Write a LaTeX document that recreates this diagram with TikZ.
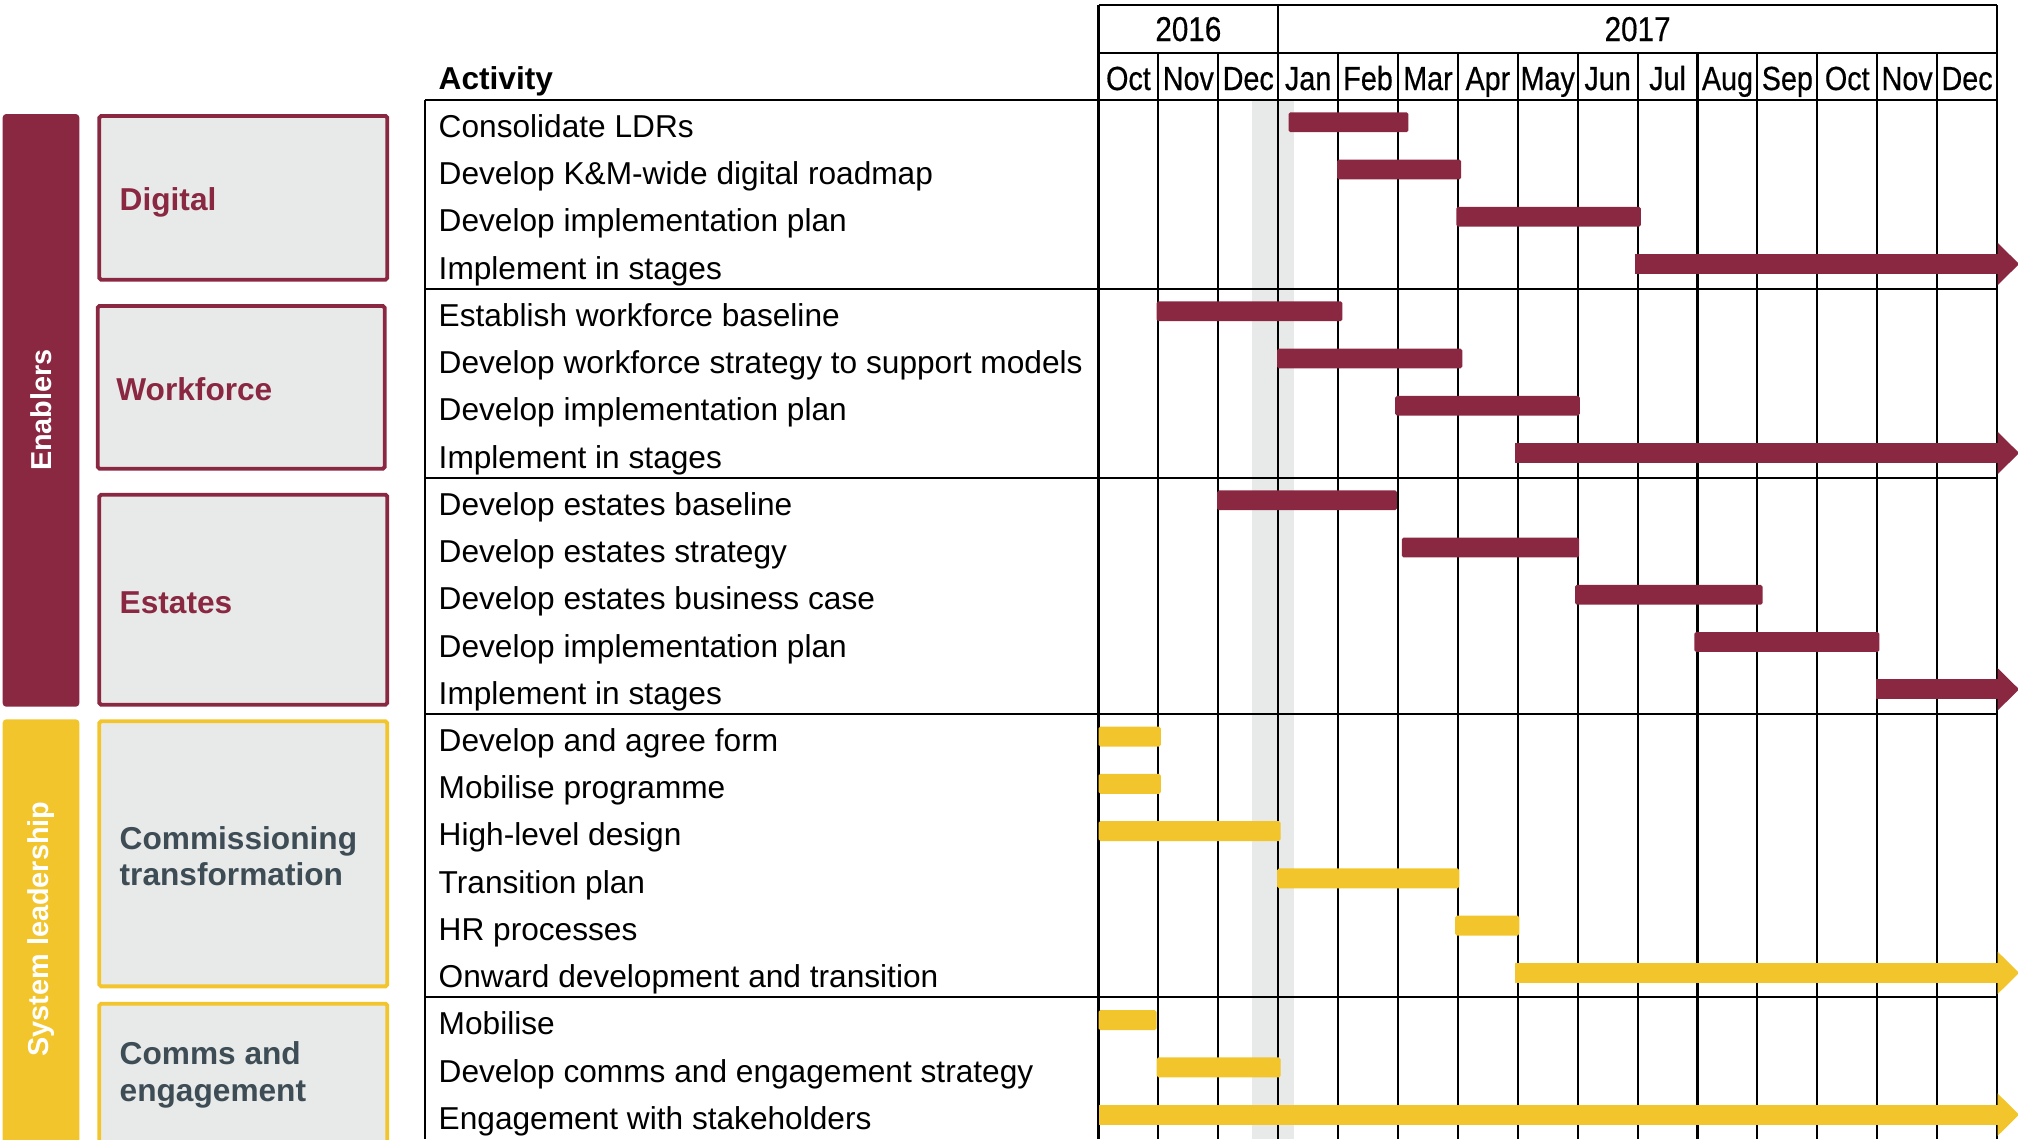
\documentclass[tikz,border=0pt]{standalone}
\usepackage{fontspec}
\setmainfont{Liberation Sans}
\newfontfamily\narrowfont[FakeStretch=0.86, FakeBold=0.5]{Liberation Sans}
\usepackage{tikz}
\usetikzlibrary{positioning}

\definecolor{enabred}{RGB}{138,40,66}
\definecolor{sysyellow}{RGB}{242,197,44}
\definecolor{boxgrey}{RGB}{232,234,233}
\definecolor{slate}{RGB}{62,77,85}

\begin{document}
\begin{tikzpicture}[x=0.01cm, y=-0.01cm,
  grid/.style={black, line width=0.6pt},
  grpbox/.style={fill=boxgrey, line width=1.1pt, rounded corners=0.5pt},
  grplabel/.style={font=\fontsize{9}{10.4}\selectfont\bfseries, anchor=west, align=left, inner sep=0pt},
  sidelabel/.style={font=\fontsize{8.2}{10}\selectfont\bfseries, text=white, rotate=90, inner sep=0pt},
  act/.style={font=\fontsize{9}{11}\selectfont, anchor=base west, inner sep=0pt},
  mon/.style={font=\narrowfont\fontsize{9.5}{11}\selectfont, anchor=base, inner sep=0pt},
  yr/.style={font=\narrowfont\fontsize{9.8}{11}\selectfont, anchor=base, inner sep=0pt}]
\useasboundingbox (0,0) rectangle (2018,1139);
\clip (0,0) rectangle (2018,1139);

% side bands
\fill[enabred, rounded corners=1pt] (2.7,114) rectangle (79.3,706.7);
\node[sidelabel] (enablers) at (41,410) {Enablers};
\fill[sysyellow, rounded corners=1pt] (2.7,719.3) rectangle (79.3,1160);
\node[sidelabel] (sysled) at (41,929) {System leadership};

% group boxes
\draw[grpbox, draw=enabred] (99.3,116) rectangle (387.3,279.7);
\node[grplabel, text=enabred] (digital) at (119,202) {Digital};
\draw[grpbox, draw=enabred] (97.7,306) rectangle (384.7,468.7);
\node[grplabel, text=enabred] (workforce) at (115.7,389) {Workforce};
\draw[grpbox, draw=enabred] (99.3,494.7) rectangle (387.3,704.7);
\node[grplabel, text=enabred] (estates) at (119,603) {Estates};
\draw[grpbox, draw=sysyellow] (99.3,721.3) rectangle (387.3,986.3);
\node[grplabel, text=slate] (commiss) at (119,856) {Commissioning\\transformation};
\draw[grpbox, draw=sysyellow] (99.3,1003.7) rectangle (387.3,1160);
\node[grplabel, text=slate] (comms) at (119,1075) {Comms and\\engagement};

% shaded week before Jan
\fill[boxgrey] (1252,100) rectangle (1294,1139);

% grid
\foreach \m in {1,2,4,5,6,7,8,9,10,11,12,13,14}
  \draw[grid] ({1098.5+59.9*\m},53) -- ({1098.5+59.9*\m},1139);
\foreach \m in {0,3,15}
  \draw[grid] ({1098.5+59.9*\m},5) -- ({1098.5+59.9*\m},1139);
\draw[grid] (1098.5,5) -- (1997,5);
\draw[grid] (1098.5,53) -- (1997,53);
\draw[grid] (425,100) -- (1997,100);
\draw[grid] (425,100) -- (425,1139);
\foreach \r in {4,8,13,19}
  \draw[grid] (425,{100+47.23*\r}) -- (1997,{100+47.23*\r});

% header
\node[yr] (y2016) at ({1098.5+59.9*1.5},41) {2016};
\node[yr] (y2017) at ({1098.5+59.9*9},41) {2017};
\foreach \t [count=\i from 0] in {Oct,Nov,Dec,Jan,Feb,Mar,Apr,May,Jun,Jul,Aug,Sep,Oct,Nov,Dec}
  \node[mon] (mon\i) at ({1098.5+59.9*(\i+0.5)},90) {\t};
\node[act, font=\fontsize{9}{11}\selectfont\bfseries] (acthead) at (438,89) {Activity};

% activities
\foreach \t [count=\i from 0] in {Consolidate LDRs,
  Develop K\&M-wide digital roadmap,
  Develop implementation plan,
  Implement in stages,
  Establish workforce baseline,
  Develop workforce strategy to support models,
  Develop implementation plan,
  Implement in stages,
  Develop estates baseline,
  Develop estates strategy,
  Develop estates business case,
  Develop implementation plan,
  Implement in stages,
  Develop and agree form,
  Mobilise programme,
  High-level design,
  Transition plan,
  HR processes,
  Onward development and transition,
  Mobilise,
  Develop comms and engagement strategy,
  Engagement with stakeholders}
  \node[act] (act\i) at (438,{137.5+47.23*\i}) {\t};

% bars: x in months from Oct 2016, y in rows
\begin{scope}[shift={(1098.5,100)}, x=0.599cm, y=-0.4723cm]
% enablers
\foreach \r/\s/\e in {0/3.17/5.17, 1/3.98/6.05, 2/5.97/9.05,
    4/0.97/4.07, 5/2.98/6.07, 6/4.95/8.03,
    8/1.98/4.98, 9/5.06/8.02, 10/7.95/11.08, 11/9.94/13.03}
  \fill[enabred, rounded corners=0.5pt] (\s,{\r+0.26}) rectangle (\e,{\r+0.68});
\foreach \r/\s in {3/8.95, 7/6.95, 12/12.98} {
  \fill[enabred] (\s,{\r+0.26}) rectangle (15,{\r+0.68});
  \fill[enabred] (15,{\r+0.02}) -- (15.36,{\r+0.47}) -- (15,{\r+0.92}) -- cycle;
}
% system leadership
\foreach \r/\s/\e in {13/0/1.04, 14/0/1.04, 15/0/3.04, 16/2.98/6.02, 17/5.95/7.02,
    19/0/0.97, 20/0.97/3.04}
  \fill[sysyellow, rounded corners=0.5pt] (\s,{\r+0.26}) rectangle (\e,{\r+0.68});
\foreach \r/\s in {18/6.95, 21/0} {
  \fill[sysyellow] (\s,{\r+0.26}) rectangle (15,{\r+0.68});
  \fill[sysyellow] (15,{\r+0.02}) -- (15.36,{\r+0.47}) -- (15,{\r+0.92}) -- cycle;
}
\end{scope}
\end{tikzpicture}
\end{document}
